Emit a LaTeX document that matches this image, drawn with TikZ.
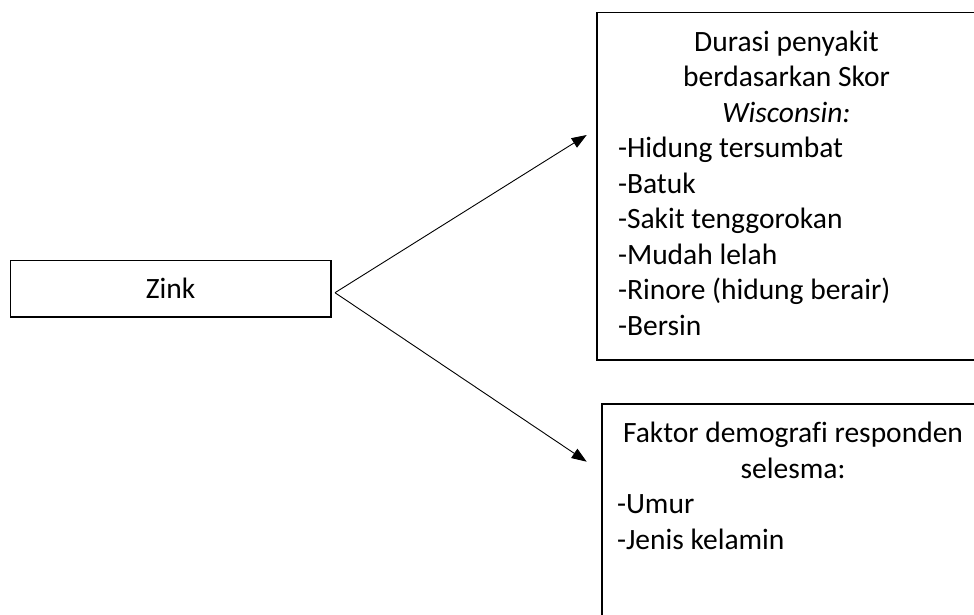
\documentclass[tikz,border=0pt]{standalone}
\usepackage{fontspec}
\setmainfont{Carlito}[Ligatures=NoCommon]
\usetikzlibrary{arrows.meta}
\tikzset{
  box/.style={draw, line width=1.5pt, rectangle, inner sep=0pt},
  txt/.style={inner sep=0pt, outer sep=0pt, font=\fontsize{29.5}{35.5}\selectfont},
  conn/.style={line width=0.9pt, -{Triangle[length=15pt,width=11pt]}}
}
\begin{document}
\begin{tikzpicture}[x=1pt,y=-1pt]
\useasboundingbox (0,0) rectangle (974,614);
\clip (0,0) rectangle (974,614);
\fill[white] (0,0) rectangle (974,614);
% boxes
\node[box, minimum width=320.3pt, minimum height=56.3pt] (zink) at (170.85,288.85) {};
\node[txt, anchor=base] (zinkt) at (170.5,298.5) {Zink};
\node[box, minimum width=379pt, minimum height=347.3pt] (dur) at (786.5,186.35) {};
\node[box, minimum width=382pt, minimum height=246pt] (demo) at (793,527) {};
% texts
\node[txt, anchor=base] (durh) at (786.5,51) {\parbox[t]{360pt}{\centering Durasi penyakit\\berdasarkan Skor\\\textit{Wisconsin:}}};
\node[txt, anchor=base west] (durl) at (618,157.5) {\parbox[t]{340pt}{\raggedright -Hidung tersumbat\\-Batuk\\-Sakit tenggorokan\\-Mudah lelah\\-Rinore (hidung berair)\\-Bersin}};
\node[txt, anchor=base] (demh) at (793,442.7) {\parbox[t]{400pt}{\centering Faktor demografi responden\\selesma:}};
\node[txt, anchor=base west] (deml) at (617,513.5) {\parbox[t]{340pt}{\raggedright -Umur\\-Jenis kelamin}};
% connectors
\coordinate (src) at (335,292.7);
\coordinate (t1) at (586.7,135);
\coordinate (t2) at (586.7,461.7);
\draw[conn] (src) -- (t1);
\draw[conn] (src) -- (t2);
\end{tikzpicture}
\end{document}
